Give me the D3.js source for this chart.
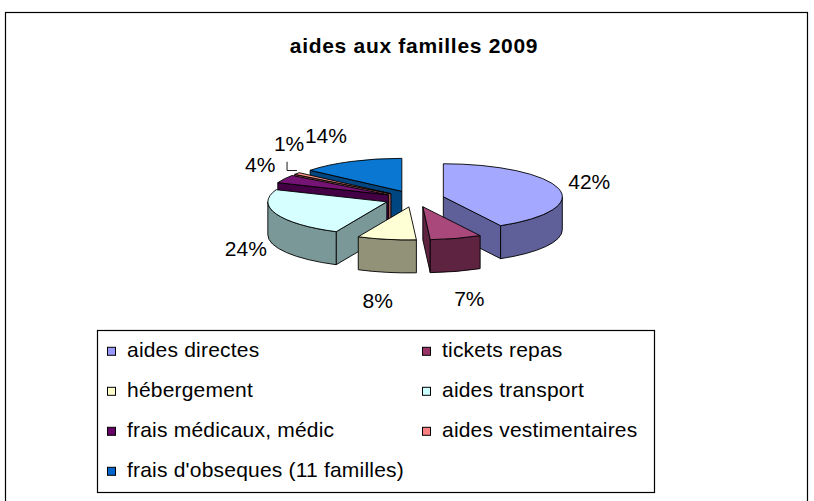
<!DOCTYPE html>
<html>
<head>
<meta charset="utf-8">
<script src="https://cdn.jsdelivr.net/npm/d3@7"></script>
<style>
  html, body { margin: 0; padding: 0; background: #fff; }
  svg { display: block; }
  text { font-family: Arial, "Liberation Sans", sans-serif; }
</style>
</head>
<body>
<svg id="chart" width="814" height="501"></svg>
<script>
// ---- data ----
const title = "aides aux familles 2009";
const categories = ["aides directes", "tickets repas", "hébergement", "aides transport",
  "frais médicaux, médic", "aides vestimentaires", "frais d'obseques (11 familles)"];
const values = [42, 7, 8, 24, 4, 1, 14];
const valueLabels = ["42%", "7%", "8%", "24%", "4%", "1%", "14%"];
const topColors  = ["#A4A8FF", "#A9487A", "#FFFFD6", "#D6FFFF", "#761476", "#FF9488", "#0A78D2"];
const sideColors = ["#5F5F99", "#5E2341", "#929279", "#7A9898", "#440044", "#9A5050", "#004680"];
const legendColors = ["#9999FF", "#993366", "#FFFFCC", "#CCFFFF", "#660066", "#FF8080", "#0066CC"];

// ---- layout ----
const svg = d3.select("#chart");
const cx = 414.5, cy = 198.8;      // pie centre (top face)
const rx = 119, ry = 33, depth = 33, explode = 0.25;
const fontSize = 21;

// chart border
svg.append("rect").attr("x", 5.5).attr("y", 12.5).attr("width", 802).attr("height", 520)
  .attr("fill", "#fff").attr("stroke", "#000").attr("stroke-width", 1.2);

// title
svg.append("text").attr("x", 414).attr("y", 53).attr("text-anchor", "middle")
  .attr("font-size", fontSize).attr("font-weight", "bold").attr("letter-spacing", 0.7)
  .text(title);

const color = d3.scaleOrdinal().domain(categories).range(topColors);
const sideColor = d3.scaleOrdinal().domain(categories).range(sideColors);

const pie = d3.pie().sort(null).value(d => d.value);
const arcs = pie(categories.map((c, i) => ({ name: c, value: values[i], label: valueLabels[i] })));

arcs.forEach(a => {
  const mid = (a.startAngle + a.endAngle) / 2;
  a.mid = mid;
  a.apex = [cx + explode * rx * Math.sin(mid), cy - explode * ry * Math.cos(mid)];
});

function rim(a, t, h) {
  return [a.apex[0] + rx * Math.sin(t), a.apex[1] - ry * Math.cos(t) + h];
}
const f = p => p[0].toFixed(2) + "," + p[1].toFixed(2);

const pieG = svg.append("g");
const order = arcs.slice().sort((p, q) => p.apex[1] - q.apex[1]);

function face(g, d, fill) {
  g.append("path").attr("d", d).attr("fill", fill)
    .attr("stroke", "#000").attr("stroke-width", 0.9).attr("stroke-linejoin", "round");
}

order.forEach(a => {
  const g = pieG.append("g");
  const s0 = a.startAngle, s1 = a.endAngle;
  const top0 = [a.apex[0], a.apex[1]], bot0 = [a.apex[0], a.apex[1] + depth];
  if (Math.sin(s0) < -1e-6)
    face(g, "M" + f(top0) + "L" + f(rim(a, s0, 0)) + "L" + f(rim(a, s0, depth)) + "L" + f(bot0) + "Z", sideColor(a.data.name));
  if (Math.sin(s1) > 1e-6)
    face(g, "M" + f(top0) + "L" + f(rim(a, s1, 0)) + "L" + f(rim(a, s1, depth)) + "L" + f(bot0) + "Z", sideColor(a.data.name));
  const v0 = Math.max(s0, Math.PI / 2), v1 = Math.min(s1, 3 * Math.PI / 2);
  if (v1 > v0) {
    const large = (v1 - v0) > Math.PI ? 1 : 0;
    face(g, "M" + f(rim(a, v0, 0)) +
      "A" + rx + "," + ry + " 0 " + large + " 1 " + f(rim(a, v1, 0)) +
      "L" + f(rim(a, v1, depth)) +
      "A" + rx + "," + ry + " 0 " + large + " 0 " + f(rim(a, v0, depth)) + "Z", sideColor(a.data.name));
  }
  const large = (s1 - s0) > Math.PI ? 1 : 0;
  face(g, "M" + f(top0) + "L" + f(rim(a, s0, 0)) +
    "A" + rx + "," + ry + " 0 " + large + " 1 " + f(rim(a, s1, 0)) + "Z", color(a.data.name));
});

// ---- data labels (outside end, with simple collision avoidance) ----
const charW = { "%": 0.889 };
const halfH = 10, gx = 10, gy = 18;
const placed = [];
arcs.forEach(a => {
  const s = Math.sin(a.mid), c = -Math.cos(a.mid);
  const w = a.data.label.split("").reduce((t, ch) => t + (charW[ch] || 0.556), 0) * fontSize;
  const halfW = w / 2;
  const m = Math.max(Math.abs(s), Math.abs(c));
  const px = a.apex[0] + (rx + gx) * s;
  const py = a.apex[1] + (ry + gy) * c + (c > 0 ? depth * Math.min(1, 2 * c) : 0);
  let lx = px + halfW * Math.sign(s) * Math.min(1, Math.abs(s) * 2.5);
  let ly = py + halfH * c / m;
  let moved = false;
  placed.forEach(b => {
    if (Math.abs(lx - b.x) < halfW + b.hw && Math.abs(ly - b.y) < halfH + b.hh) {
      ly = b.y - (halfH + b.hh) - 1;
      lx = px;
      moved = true;
    }
  });
  placed.push({ x: lx, y: ly, hw: halfW, hh: halfH });
  if (moved) {
    const r = rim(a, a.mid, 0);
    svg.append("path")
      .attr("d", "M" + f([lx - 2, ly + halfH + 8]) + "L" + f([lx - 2, r[1] - 3]) + "L" + f([r[0], r[1] - 3]))
      .attr("fill", "none").attr("stroke", "#000").attr("stroke-width", 0.9);
  }
  svg.append("text").attr("x", lx).attr("y", ly + 7.5).attr("text-anchor", "middle")
    .attr("font-size", fontSize).text(a.data.label);
});

// ---- legend ----
const legend = svg.append("g");
legend.append("rect").attr("x", 97.5).attr("y", 330.5).attr("width", 557).attr("height", 162)
  .attr("fill", "#fff").attr("stroke", "#000").attr("stroke-width", 1.2);
const legendColor = d3.scaleOrdinal().domain(categories).range(legendColors);
const colX = [107, 422], row0 = 357.3, rowStep = 40;
categories.forEach((name, i) => {
  const col = i % 2, row = Math.floor(i / 2);
  const y = row0 + row * rowStep;
  legend.append("rect").attr("x", colX[col] + 0.5).attr("y", y - 10).attr("width", 8).attr("height", 8)
    .attr("fill", legendColor(name)).attr("stroke", "#000").attr("stroke-width", 1);
  legend.append("text").attr("x", colX[col] + 20).attr("y", y)
    .attr("font-size", fontSize).attr("letter-spacing", 0.2).text(name);
});
</script>
</body>
</html>
